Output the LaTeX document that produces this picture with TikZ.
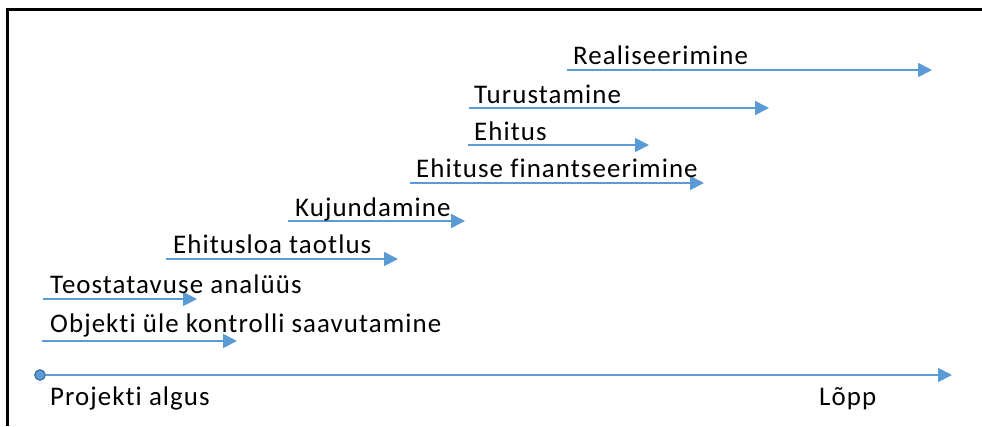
\documentclass[tikz,border=0pt]{standalone}
\usepackage{fontspec}
\setmainfont{Carlito}[Ligatures={NoCommon}, LetterSpace=4]
\usetikzlibrary{arrows.meta}
\definecolor{arrblue}{HTML}{5B9BD5}
\definecolor{darkblue}{HTML}{41719C}
\begin{document}
\begin{tikzpicture}[x=1bp,y=-1bp,
  arr/.style={draw=arrblue, line width=1.7bp, -{Triangle[length=14bp,width=14bp]}},
  lbl/.style={anchor=base west, inner sep=0pt, font=\fontsize{27}{32}\selectfont},
  frame/.style={draw=black, line width=3bp}]
\useasboundingbox (0,0) rectangle (982,426);
% frame (left and top edges)
\coordinate (fbl) at (7,426);
\coordinate (ftl) at (7,9);
\coordinate (ftr) at (982,9);
\draw[frame] (fbl) -- (ftl) -- (ftr);

% Realiseerimine
\coordinate (r1) at (567,70); \coordinate (r2) at (932,70);
\draw[arr] (r1) -- (r2);
\node[lbl] (tr) at (573,64) {Realiseerimine};
% Turustamine
\coordinate (u1) at (469,108); \coordinate (u2) at (769,108);
\draw[arr] (u1) -- (u2);
\node[lbl] (tu) at (474,103) {Turustamine};
% Ehitus
\coordinate (e1) at (468,145); \coordinate (e2) at (649,145);
\draw[arr] (e1) -- (e2);
\node[lbl] (te) at (474,140) {Ehitus};
% Ehituse finantseerimine
\coordinate (f1) at (410,183); \coordinate (f2) at (704,183);
\draw[arr] (f1) -- (f2);
\node[lbl] (tf) at (416,177) {Ehituse finantseerimine};
% Kujundamine
\coordinate (k1) at (288,221); \coordinate (k2) at (465,221);
\draw[arr] (k1) -- (k2);
\node[lbl] (tk) at (295,216) {Kujundamine};
% Ehitusloa taotlus
\coordinate (l1) at (166,259); \coordinate (l2) at (398,259);
\draw[arr] (l1) -- (l2);
\node[lbl] (tl) at (173,253) {Ehitusloa taotlus};
% Teostatavuse analyys
\coordinate (a1) at (43,299); \coordinate (a2) at (197,299);
\draw[arr] (a1) -- (a2);
\node[lbl] (ta) at (50,293) {Teostatavuse analüüs};
% Objekti
\coordinate (o1) at (42,341); \coordinate (o2) at (237,341);
\draw[arr] (o1) -- (o2);
\node[lbl] (to) at (50,332) {Objekti üle kontrolli saavutamine};
% Timeline
\coordinate (t2) at (952,375);
\node[circle, draw=darkblue, fill=arrblue, line width=1.2bp, minimum size=10.5bp, inner sep=0pt] (t0) at (40,375) {};
\draw[arr] (t0.east) -- (t2);
\node[lbl] (tp) at (50,405) {Projekti algus};
\node[lbl] (tlo) at (819,405) {Lõpp};
\end{tikzpicture}
\end{document}
